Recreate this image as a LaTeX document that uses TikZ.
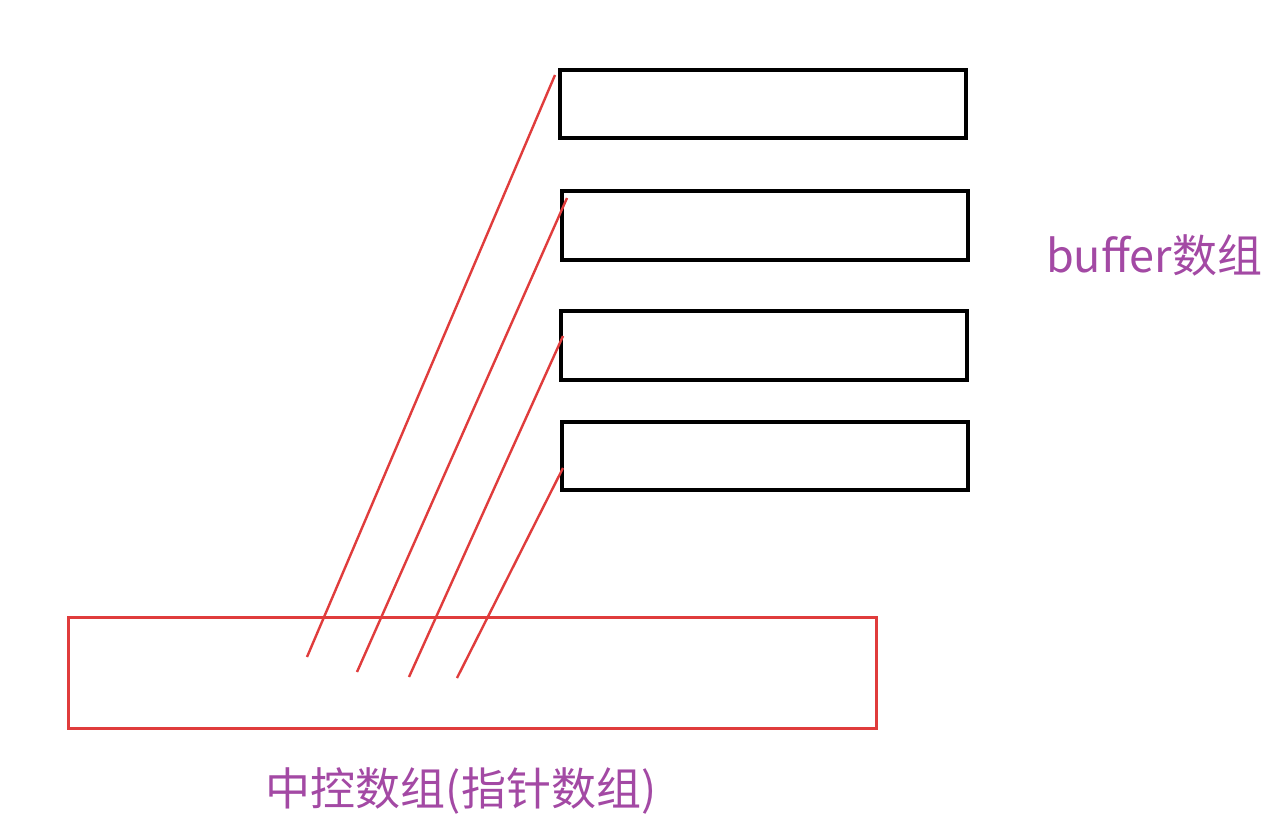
\documentclass[tikz,border=0pt]{standalone}
\usepackage{fontspec}
\newfontfamily\cjk{Noto Sans CJK SC}
\definecolor{lbl}{HTML}{A349A4}
\definecolor{lnred}{HTML}{E03C3C}
\begin{document}
\begin{tikzpicture}[x=1pt,y=-1pt,
  buf/.style={draw=black,line width=3.4pt,rectangle,inner sep=0pt,minimum width=406pt,minimum height=68pt},
  ctrl/.style={draw=lnred,line width=3pt,rectangle,inner sep=0pt,minimum width=808pt,minimum height=111pt},
  ptr/.style={draw=lnred,line width=2.4pt},
  lbltext/.style={text=lbl,font=\cjk\fontsize{45pt}{48pt}\selectfont,inner sep=0pt}]
\useasboundingbox (0,0) rectangle (1280,832);
\fill[white] (0,0) rectangle (1280,832);
\node[buf] (b1) at (763,104) {};
\node[buf,minimum height=69pt] (b2) at (765,225.5) {};
\node[buf,minimum height=69pt] (b3) at (764,345.5) {};
\node[buf] (b4) at (765,456) {};
\node[ctrl] (c) at (472,672.5) {};
\coordinate (t1) at (555,75);
\coordinate (t2) at (567,198);
\coordinate (t3) at (563,336);
\coordinate (t4) at (563,468);
\coordinate (e1) at (307,657);
\coordinate (e2) at (357,672);
\coordinate (e3) at (409,677);
\coordinate (e4) at (457,678);
\draw[ptr] (t1) -- (e1);
\draw[ptr] (t2) -- (e2);
\draw[ptr] (t3) -- (e3);
\draw[ptr] (t4) -- (e4);
\node[lbltext] (bl) at (1154,255) {buffer数组};
\node[lbltext] (cl) at (461,791) {中控数组(指针数组)};
\end{tikzpicture}
\end{document}
